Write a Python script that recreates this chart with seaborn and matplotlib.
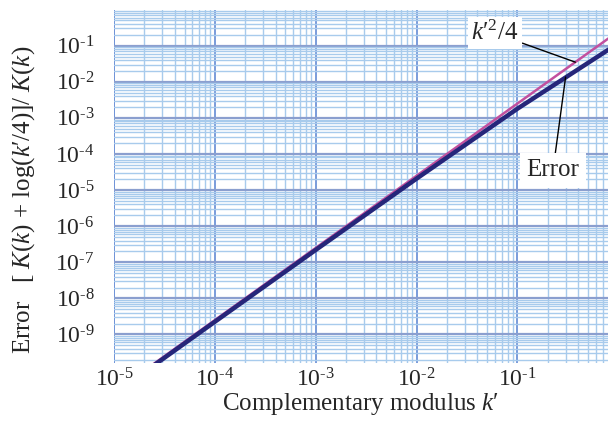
import numpy as np
import pandas as pd
import matplotlib
matplotlib.use("Agg")
import matplotlib.pyplot as plt
from matplotlib.ticker import LogLocator, FixedLocator, FuncFormatter
import seaborn as sns

# values (log-log, nearly straight lines)
k_prime = [2.4e-5, 1e-4, 1e-3, 1e-2, 1e-1, 0.8]
approx_k2_4 = [1.44e-10, 2.5e-9, 2.5e-7, 2.5e-5, 2.5e-3, 0.16]
error_vals = [1.3e-10, 2.25e-9, 2.2e-7, 2.08e-5, 1.8e-3, 0.078]
x_ticks = [1e-5, 1e-4, 1e-3, 1e-2, 1e-1]
y_ticks = [1e-9, 1e-8, 1e-7, 1e-6, 1e-5, 1e-4, 1e-3, 1e-2, 1e-1]

df = pd.DataFrame({"k": k_prime + k_prime,
                   "val": approx_k2_4 + error_vals,
                   "series": ["k2/4"] * len(k_prime) + ["Error"] * len(k_prime)})

sns.set_style("white")
plt.rcParams["font.family"] = ["Liberation Serif", "DejaVu Serif"]
plt.rcParams["mathtext.fontset"] = "custom"
plt.rcParams["mathtext.rm"] = "Liberation Serif"
plt.rcParams["mathtext.it"] = "Liberation Serif:italic"

MINOR = "#a8cbec"
MAJOR_H = "#8b9fcf"
MAJOR_V = "#7094d8"

fig = plt.figure(figsize=(6.08, 4.37), dpi=100)
ax = fig.add_axes([0.1875, 0.170, 0.8125, 0.808])
ax.set_xscale("log")
ax.set_yscale("log")
ax.set_xlim(1e-5, 0.79)
ax.set_ylim(1.65e-10, 1.0)

# grid paper
ax.xaxis.set_major_locator(FixedLocator(x_ticks))
ax.yaxis.set_major_locator(FixedLocator(y_ticks))
ax.xaxis.set_minor_locator(LogLocator(base=10, subs=np.arange(2, 10), numticks=100))
ax.yaxis.set_minor_locator(LogLocator(base=10, subs=np.arange(2, 10), numticks=100))
ax.grid(which="minor", color=MINOR, lw=1.0)
ax.grid(which="major", axis="y", color=MAJOR_H, lw=1.6)
ax.grid(which="major", axis="x", color=MAJOR_V, lw=1.3)
ax.set_axisbelow(True)
for s in ax.spines.values():
    s.set_visible(False)
ax.axvline(1e-5, color=MAJOR_V, lw=1.3, zorder=0.5)

sns.lineplot(data=df[df.series == "k2/4"], x="k", y="val", ax=ax,
             color="#c2509f", lw=1.8, legend=False)
sns.lineplot(data=df[df.series == "Error"], x="k", y="val", ax=ax,
             color="#26267a", lw=3.2, legend=False)

fmt = FuncFormatter(lambda v, p: r"10$^{\text{-}%d}$" % abs(int(round(np.log10(v)))))
ax.xaxis.set_major_formatter(fmt)
ax.yaxis.set_major_formatter(fmt)
ax.tick_params(which="both", length=0, labelsize=17)
ax.tick_params(axis="y", pad=14)
ax.tick_params(axis="x", pad=4)

ax.set_xlabel("Complementary modulus $k$\u2032", fontsize=18, labelpad=0)
ax.set_ylabel("Error   $[\\ K(k)$ + log($k$\u2032/4)]/ $K(k)$", fontsize=18)
ax.yaxis.set_label_coords(-0.155, 0.46)

box = dict(boxstyle="square,pad=0.15", fc="white", ec="none")
ax.annotate("$k$\u2032$^{2}$/4", xy=(0.375, 0.035), xytext=(0.06, 0.22),
            fontsize=18, ha="center", va="center", bbox=box,
            arrowprops=dict(arrowstyle="-", color="black", lw=1.0,
                            shrinkA=0, shrinkB=0))
ax.annotate("Error", xy=(0.30, 0.0135), xytext=(0.225, 3.5e-5),
            fontsize=18, ha="center", va="center",
            bbox=dict(boxstyle="square,pad=0.25", fc="white", ec="none"),
            arrowprops=dict(arrowstyle="-", color="black", lw=1.0,
                            shrinkA=0, shrinkB=0))

fig.savefig("out.png", dpi=100)
